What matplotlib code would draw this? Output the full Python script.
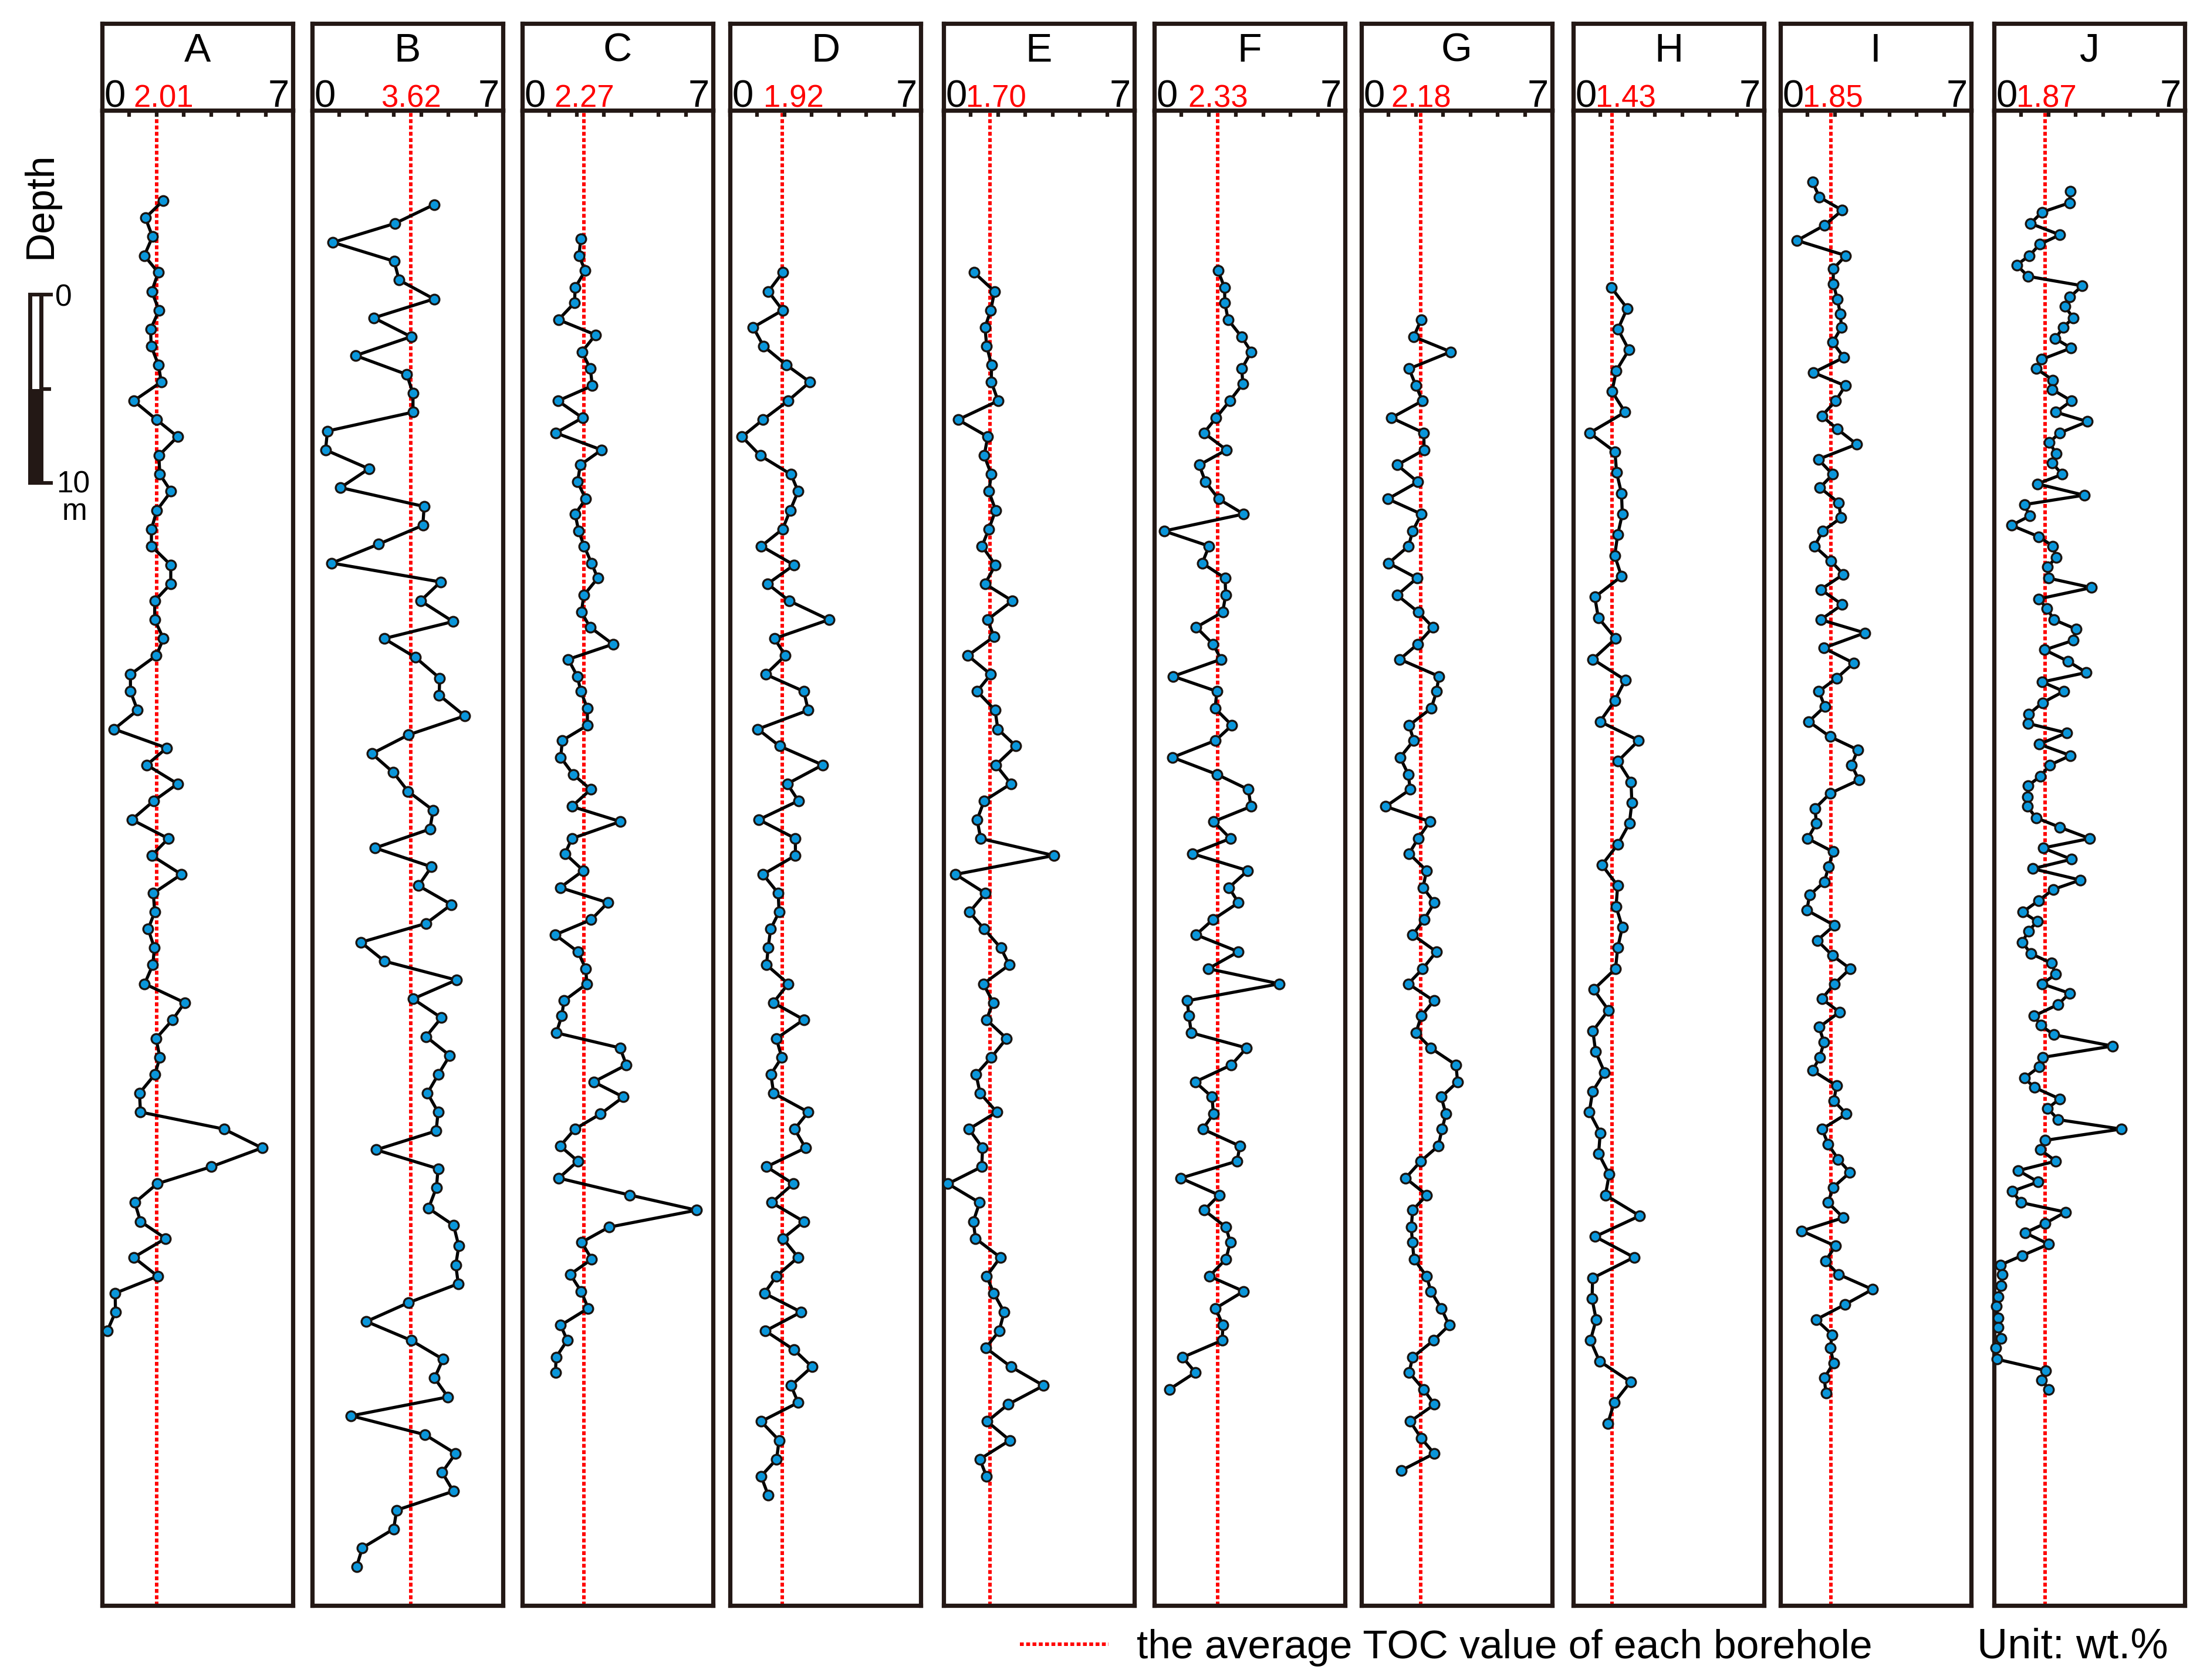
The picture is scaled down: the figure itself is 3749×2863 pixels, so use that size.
import matplotlib
matplotlib.use("Agg")
import matplotlib.pyplot as plt
from matplotlib.patches import Rectangle

plt.rcParams['font.family'] = ['Liberation Sans', 'DejaVu Sans']

# ---- data: TOC (wt.%) against depth (m) for each borehole ----
names = ['A', 'B', 'C', 'D', 'E', 'F', 'G', 'H', 'I', 'J']
means = [2.01, 3.62, 2.27, 1.92, 1.70, 2.33, 2.18, 1.43, 1.85, 1.87]

depth_a = [4.8, 5.7, 6.7, 7.7, 8.6, 9.6, 10.6, 11.6, 12.5, 13.5, 14.4, 15.4, 16.4, 17.3, 18.3, 19.3,
           20.2, 21.2, 22.2, 23.1, 24.1, 25.1, 26.0, 27.0, 28.0, 28.9, 29.9, 30.8, 31.8, 32.8, 33.8,
           34.7, 35.7, 36.6, 37.6, 38.6, 39.5, 40.5, 41.5, 42.5, 43.4, 44.4, 45.3, 46.3, 47.3, 48.2,
           49.2, 50.2, 51.1, 52.1, 53.1, 54.0, 55.0, 56.0, 56.9, 57.9, 58.9, 59.8, 60.8, 61.8, 62.7,
           63.7, 64.7]
toc_a = [2.23, 1.59, 1.85, 1.55, 2.06, 1.82, 2.09, 1.78, 1.80, 2.07, 2.17, 1.16, 2.00, 2.77, 2.08, 2.12,
         2.53, 2.01, 1.81, 1.81, 2.52, 2.52, 1.93, 1.93, 2.25, 1.99, 1.04, 1.04, 1.30, 0.44, 2.37, 1.64,
         2.77, 1.90, 1.09, 2.43, 1.82, 2.91, 1.88, 1.93, 1.69, 1.92, 1.86, 1.56, 3.03, 2.59, 1.98, 2.12,
         1.94, 1.37, 1.41, 4.47, 5.87, 4.00, 2.02, 1.20, 1.41, 2.33, 1.16, 2.04, 0.48, 0.49, 0.19]

depth_b = [5.0, 6.0, 7.0, 8.0, 9.0, 10.0, 11.0, 12.0, 13.0, 14.0, 15.0, 16.0, 17.0, 18.0, 19.0, 20.0,
           21.0, 22.0, 23.0, 24.0, 25.0, 26.0, 27.1, 28.0, 29.0, 30.1, 31.0, 32.1, 33.1, 34.1, 35.1,
           36.1, 37.1, 38.1, 39.1, 40.1, 41.1, 42.1, 43.1, 44.1, 45.1, 46.1, 47.1, 48.1, 49.1, 50.1,
           51.1, 52.1, 53.1, 54.1, 55.1, 56.1, 57.1, 58.2, 59.1, 60.2, 61.2, 62.2, 63.2, 64.2, 65.2,
           66.2, 67.2, 68.2, 69.2, 70.2, 71.2, 72.2, 73.2, 74.2, 75.2, 76.2, 77.2]
toc_b = [4.47, 3.03, 0.76, 3.01, 3.19, 4.47, 2.26, 3.63, 1.59, 3.47, 3.70, 3.70, 0.56, 0.49, 2.08, 1.04,
         4.11, 4.06, 2.43, 0.72, 4.71, 3.98, 5.17, 2.64, 3.79, 4.68, 4.66, 5.60, 3.54, 2.19, 2.98, 3.52,
         4.44, 4.32, 2.31, 4.38, 3.90, 5.11, 4.18, 1.79, 2.65, 5.29, 3.70, 4.74, 4.18, 5.05, 4.63, 4.23,
         4.62, 4.55, 2.35, 4.62, 4.56, 4.27, 5.19, 5.38, 5.27, 5.36, 3.54, 1.99, 3.63, 4.80, 4.49, 4.98,
         1.43, 4.14, 5.26, 4.77, 5.18, 3.10, 2.99, 1.84, 1.63]

depth_c = [6.8, 7.7, 8.5, 9.4, 10.2, 11.1, 11.9, 12.8, 13.7, 14.6, 15.4, 16.3, 17.1, 18.0, 18.8, 19.7,
           20.6, 21.4, 22.3, 23.1, 24.0, 24.8, 25.7, 26.6, 27.4, 28.3, 29.1, 30.0, 30.8, 31.7, 32.6,
           33.4, 34.3, 35.2, 36.0, 36.9, 37.7, 38.6, 39.4, 40.3, 41.2, 42.0, 42.9, 43.7, 44.6, 45.5,
           46.3, 47.2, 48.0, 48.9, 49.7, 50.6, 51.5, 52.3, 53.2, 54.0, 54.9, 55.7, 56.6, 57.5, 58.3,
           59.2, 60.0, 60.9, 61.7, 62.6, 63.5, 64.4, 65.2, 66.1, 66.9]
toc_c = [2.15, 2.08, 2.31, 1.94, 1.92, 1.33, 2.69, 2.19, 2.50, 2.57, 1.31, 2.21, 1.23, 2.91, 2.13, 2.03,
         2.33, 1.94, 2.07, 2.27, 2.54, 2.77, 2.26, 2.17, 2.49, 3.33, 1.69, 2.02, 2.15, 2.39, 2.39, 1.47,
         1.41, 1.87, 2.51, 1.82, 3.60, 1.82, 1.57, 2.24, 1.39, 3.14, 2.53, 1.21, 2.04, 2.33, 2.37, 1.53,
         1.45, 1.25, 3.59, 3.82, 2.62, 3.71, 2.87, 1.93, 1.39, 2.04, 1.34, 3.95, 6.40, 3.18, 2.18, 2.55,
         1.76, 2.16, 2.42, 1.41, 1.65, 1.24, 1.22]

depth_d = [8.6, 9.6, 10.6, 11.5, 12.5, 13.5, 14.4, 15.4, 16.4, 17.3, 18.3, 19.3, 20.2, 21.2, 22.2, 23.1,
           24.1, 25.1, 26.0, 27.0, 28.0, 28.9, 29.9, 30.8, 31.8, 32.8, 33.7, 34.7, 35.7, 36.6, 37.6,
           38.6, 39.5, 40.5, 41.5, 42.5, 43.4, 44.4, 45.3, 46.3, 47.3, 48.2, 49.2, 50.2, 51.1, 52.1,
           53.1, 54.0, 55.0, 56.0, 56.9, 57.9, 58.9, 59.8, 60.8, 61.8, 62.7, 63.7, 64.7, 65.7, 66.6,
           67.6, 68.5, 69.5, 70.5, 71.5, 72.4, 73.4]
toc_d = [1.93, 1.41, 1.93, 0.85, 1.23, 2.07, 2.93, 2.13, 1.21, 0.44, 1.11, 2.24, 2.50, 2.21, 1.93, 1.15,
         2.35, 1.38, 2.17, 3.63, 1.63, 2.03, 1.31, 2.71, 2.87, 1.02, 1.82, 3.40, 2.10, 2.51, 1.06, 2.40,
         2.40, 1.21, 1.77, 1.80, 1.49, 1.40, 1.34, 2.14, 1.59, 2.71, 1.70, 1.90, 1.50, 1.60, 2.87, 2.37,
         2.77, 1.34, 2.32, 1.53, 2.71, 1.94, 2.50, 1.70, 1.26, 2.61, 1.30, 2.35, 3.01, 2.24, 2.50, 1.14,
         1.80, 1.71, 1.14, 1.40]

depth_e = [8.6, 9.6, 10.6, 11.5, 12.5, 13.5, 14.4, 15.4, 16.4, 17.3, 18.3, 19.3, 20.2, 21.2, 22.2, 23.1,
           24.1, 25.1, 26.0, 27.0, 27.9, 28.9, 29.9, 30.8, 31.8, 32.8, 33.7, 34.7, 35.7, 36.6, 37.6,
           38.6, 39.5, 40.5, 41.5, 42.5, 43.4, 44.4, 45.3, 46.3, 47.3, 48.2, 49.2, 50.2, 51.1, 52.1,
           53.1, 54.0, 55.0, 56.0, 56.9, 57.9, 58.9, 59.8, 60.8, 61.8, 62.7, 63.7, 64.7, 65.6, 66.6,
           67.6, 68.6, 69.5, 70.5, 71.5, 72.4]
toc_e = [1.12, 1.87, 1.73, 1.52, 1.58, 1.76, 1.75, 2.00, 0.53, 1.62, 1.49, 1.75, 1.66, 1.91, 1.66, 1.41,
         1.90, 1.52, 2.52, 1.61, 1.85, 0.89, 1.73, 1.23, 1.89, 1.99, 2.65, 1.92, 2.47, 1.49, 1.23, 1.36,
         4.05, 0.44, 1.53, 0.95, 1.49, 2.10, 2.41, 1.46, 1.82, 1.57, 2.31, 1.75, 1.19, 1.34, 1.95, 0.93,
         1.43, 1.40, 0.16, 1.32, 1.09, 1.17, 2.08, 1.58, 1.84, 2.22, 2.04, 1.55, 2.47, 3.67, 2.36, 1.60,
         2.43, 1.33, 1.57]

depth_f = [8.5, 9.4, 10.2, 11.1, 12.0, 12.8, 13.7, 14.5, 15.4, 16.3, 17.1, 18.0, 18.8, 19.7, 20.6, 21.4,
           22.3, 23.1, 24.0, 24.8, 25.7, 26.6, 27.4, 28.3, 29.1, 30.0, 30.8, 31.7, 32.6, 33.4, 34.3,
           35.2, 36.0, 36.9, 37.7, 38.6, 39.4, 40.3, 41.2, 42.0, 42.9, 43.7, 44.6, 45.5, 46.3, 47.2,
           48.0, 48.9, 49.7, 50.6, 51.5, 52.3, 53.2, 54.0, 54.9, 55.7, 56.6, 57.5, 58.3, 59.2, 60.0,
           60.9, 61.8, 62.6, 63.5, 64.4, 65.2, 66.1, 66.9, 67.8]
toc_f = [2.34, 2.58, 2.59, 2.71, 3.20, 3.56, 3.21, 3.25, 2.77, 2.27, 1.82, 2.65, 1.65, 1.88, 2.36, 3.28,
         0.36, 2.01, 1.76, 2.60, 2.62, 2.51, 1.54, 2.16, 2.45, 0.69, 2.30, 2.23, 2.85, 2.25, 0.67, 2.30,
         3.45, 3.55, 2.18, 2.79, 1.39, 3.43, 2.74, 3.09, 2.15, 1.53, 3.09, 1.98, 4.59, 1.21, 1.27, 1.36,
         3.39, 2.83, 1.50, 2.12, 2.17, 1.78, 3.14, 3.04, 0.97, 2.38, 1.83, 2.63, 2.79, 2.63, 2.02, 3.28,
         2.25, 2.52, 2.49, 1.04, 1.51, 0.55]

depth_g = [11.1, 12.0, 12.8, 13.7, 14.6, 15.4, 16.3, 17.1, 18.0, 18.8, 19.7, 20.6, 21.4, 22.3, 23.1,
           24.0, 24.8, 25.7, 26.6, 27.4, 28.3, 29.1, 30.0, 30.8, 31.7, 32.6, 33.4, 34.3, 35.2, 36.0,
           36.9, 37.7, 38.6, 39.4, 40.3, 41.2, 42.0, 42.9, 43.7, 44.6, 45.5, 46.3, 47.2, 48.0, 48.9,
           49.7, 50.6, 51.5, 52.3, 53.2, 54.0, 54.9, 55.7, 56.6, 57.5, 58.3, 59.2, 60.0, 60.9, 61.8,
           62.6, 63.5, 64.4, 65.2, 66.1, 66.9, 67.8, 68.6, 69.5, 70.4, 71.2, 72.1]
toc_g = [2.19, 1.92, 3.28, 1.75, 2.00, 2.24, 1.10, 2.29, 2.30, 1.31, 2.07, 0.97, 2.20, 1.88, 1.73, 1.00,
         2.04, 1.31, 2.09, 2.62, 2.06, 1.41, 2.84, 2.76, 2.56, 1.75, 1.92, 1.42, 1.72, 1.79, 0.89, 2.51,
         2.08, 1.75, 2.39, 2.26, 2.68, 2.30, 1.88, 2.75, 2.25, 1.72, 2.66, 2.20, 2.00, 2.54, 3.47, 3.53,
         2.93, 3.10, 2.96, 2.82, 2.18, 1.62, 2.40, 1.88, 1.83, 1.87, 1.93, 2.39, 2.55, 2.93, 3.22, 2.65,
         1.88, 1.75, 2.28, 2.68, 1.79, 2.20, 2.67, 1.46]

depth_h = [9.4, 10.5, 11.6, 12.7, 13.8, 14.9, 16.0, 17.1, 18.1, 19.2, 20.3, 21.4, 22.5, 23.6, 24.7, 25.8,
           26.9, 28.0, 29.1, 30.2, 31.3, 32.4, 33.4, 34.5, 35.6, 36.7, 37.8, 38.9, 40.0, 41.1, 42.2,
           43.3, 44.4, 45.5, 46.6, 47.7, 48.8, 49.9, 51.0, 52.0, 53.1, 54.2, 55.3, 56.4, 57.5, 58.6,
           59.7, 60.8, 61.9, 63.0, 64.1, 65.2, 66.3, 67.4, 68.5, 69.6]
toc_h = [1.40, 1.98, 1.64, 2.04, 1.58, 1.42, 1.90, 0.60, 1.53, 1.59, 1.77, 1.80, 1.63, 1.52, 1.77, 0.79,
         0.92, 1.55, 0.72, 1.91, 1.52, 0.98, 2.40, 1.64, 2.12, 2.15, 2.06, 1.64, 1.05, 1.63, 1.57, 1.80,
         1.63, 1.55, 0.75, 1.29, 0.72, 0.82, 1.15, 0.71, 0.59, 0.99, 0.93, 1.32, 1.18, 2.44, 0.80, 2.23,
         0.71, 0.69, 0.84, 0.63, 0.96, 2.10, 1.50, 1.27]

depth_i = [3.8, 4.6, 5.3, 6.1, 6.9, 7.7, 8.4, 9.2, 10.0, 10.8, 11.5, 12.3, 13.1, 13.9, 14.6, 15.4, 16.2,
           16.9, 17.7, 18.5, 19.3, 20.0, 20.8, 21.6, 22.3, 23.1, 23.9, 24.6, 25.4, 26.2, 27.0, 27.7,
           28.5, 29.3, 30.1, 30.8, 31.6, 32.4, 33.2, 33.9, 34.7, 35.5, 36.2, 37.0, 37.8, 38.6, 39.3,
           40.1, 40.9, 41.6, 42.4, 43.2, 44.0, 44.8, 45.5, 46.3, 47.1, 47.8, 48.6, 49.4, 50.2, 50.9,
           51.7, 52.5, 53.2, 54.0, 54.8, 55.6, 56.3, 57.1, 57.9, 58.7, 59.4, 60.2, 61.0, 61.7, 62.5,
           63.3, 64.1, 64.9, 65.6, 66.4, 67.2, 68.0]
toc_i = [1.18, 1.43, 2.27, 1.61, 0.61, 2.40, 1.94, 1.94, 2.09, 2.20, 2.24, 1.92, 2.33, 1.21, 2.38, 2.03,
         1.52, 2.09, 2.80, 1.39, 1.92, 1.45, 2.14, 2.22, 1.56, 1.25, 1.86, 2.31, 1.48, 2.27, 1.48, 3.10,
         1.59, 2.69, 2.06, 1.41, 1.63, 1.04, 1.82, 2.84, 2.61, 2.88, 1.83, 1.27, 1.32, 1.00, 1.93, 1.77,
         1.61, 1.07, 0.97, 1.98, 1.35, 1.91, 2.56, 1.98, 1.52, 2.17, 1.42, 1.60, 1.44, 1.18, 2.06, 1.96,
         2.42, 1.53, 1.75, 2.12, 2.55, 1.93, 1.75, 2.31, 0.78, 2.02, 1.65, 2.13, 3.38, 2.37, 1.31, 1.90,
         1.83, 1.95, 1.61, 1.67]

depth_j = [4.3, 4.9, 5.4, 6.0, 6.6, 7.1, 7.7, 8.2, 8.8, 9.3, 9.9, 10.4, 11.0, 11.5, 12.1, 12.6, 13.2,
           13.7, 14.3, 14.8, 15.4, 16.0, 16.5, 17.1, 17.6, 18.2, 18.7, 19.3, 19.8, 20.4, 20.9, 21.5,
           22.0, 22.6, 23.1, 23.7, 24.2, 24.8, 25.3, 25.9, 26.4, 27.0, 27.5, 28.1, 28.6, 29.2, 29.8,
           30.3, 30.8, 31.4, 32.0, 32.5, 33.0, 33.6, 34.2, 34.7, 35.3, 35.8, 36.4, 36.9, 37.5, 38.0,
           38.6, 39.1, 39.7, 40.2, 40.8, 41.3, 41.9, 42.5, 43.0, 43.5, 44.1, 44.7, 45.2, 45.8, 46.3,
           46.8, 47.4, 48.0, 48.5, 49.0, 49.6, 50.2, 50.7, 51.3, 51.8, 52.4, 52.9, 53.5, 54.0, 54.6,
           55.1, 55.7, 56.2, 56.8, 57.3, 57.9, 58.4, 59.0, 59.5, 60.1, 60.7, 61.2, 61.7, 62.3, 62.9,
           63.4, 64.0, 64.5, 65.1, 65.6, 66.2, 66.8, 67.3, 67.8]
toc_j = [2.79, 2.78, 1.76, 1.34, 2.42, 1.68, 1.30, 0.83, 1.25, 3.24, 2.78, 2.60, 2.91, 2.54, 2.25, 2.83,
         1.75, 1.56, 2.16, 2.14, 2.84, 2.27, 3.43, 2.41, 2.03, 2.28, 2.14, 2.50, 1.59, 3.31, 1.11, 1.31,
         0.64, 1.64, 2.16, 2.28, 1.97, 2.01, 3.58, 1.64, 1.94, 2.20, 3.01, 2.90, 1.86, 2.71, 3.39, 1.77,
         2.56, 1.78, 1.28, 1.25, 2.66, 1.66, 2.81, 2.05, 1.70, 1.25, 1.23, 1.23, 1.54, 2.41, 3.51, 1.80,
         2.84, 1.42, 3.17, 2.17, 1.63, 1.05, 1.59, 1.26, 1.04, 1.35, 2.10, 2.27, 1.76, 2.77, 2.35, 1.47,
         1.72, 2.19, 4.35, 1.79, 1.66, 1.11, 1.49, 2.41, 1.97, 2.35, 4.67, 1.87, 1.70, 2.27, 0.89, 1.62,
         0.66, 1.00, 2.62, 1.88, 1.14, 2.01, 1.04, 0.24, 0.30, 0.26, 0.15, 0.09, 0.14, 0.16, 0.26, 0.07,
         0.11, 1.90, 1.75, 2.01]

depths = [depth_a, depth_b, depth_c, depth_d, depth_e, depth_f, depth_g, depth_h, depth_i, depth_j]
tocs = [toc_a, toc_b, toc_c, toc_d, toc_e, toc_f, toc_g, toc_h, toc_i, toc_j]

# ---- layout (pixels of the 3749 x 2863 canvas) ----
W, H = 3749, 2863
FRAME = '#231815'
BLUE = '#0A96DA'
RED = '#FF0000'
lefts = [174, 532, 890, 1244, 1608, 1967, 2320, 2681, 3034, 3398]
pw = 325
y_top, y_axis, y_bot = 39.5, 188, 2736
px_per_m = 32.15
depth_max = (y_bot - y_axis) / px_per_m
label_nudge = {'A': 0.25, 'D': 0.4}
DOT = (0, (1.1, 0.7))

fig = plt.figure(figsize=(W / 100, H / 100), dpi=100)
fig.patch.set_facecolor('white')

# overlay in pixel coordinates for scale bar / legend
ov = fig.add_axes([0, 0, 1, 1])
ov.set_xlim(0, W)
ov.set_ylim(H, 0)
ov.axis('off')


def style_spines(a):
    for s in a.spines.values():
        s.set_linewidth(5.2)
        s.set_color(FRAME)
        s.set_capstyle('projecting')


for name, m, dep, toc, left in zip(names, means, depths, tocs, lefts):
    ax = fig.add_axes([left / W, (H - y_bot) / H, pw / W, (y_bot - y_axis) / H])
    ax.set_xlim(0, 7)
    ax.set_ylim(depth_max, 0)
    ax.axvline(m, color=RED, lw=4.3, ls=DOT, zorder=1)
    ax.plot(toc, dep, '-o', color='black', lw=3.8, ms=12, mfc=BLUE, mec='#1a1410',
            mew=2.4, clip_on=False, zorder=3)
    ax.set_xticks(range(8))
    ax.set_yticks([])
    ax.tick_params(axis='x', top=True, bottom=False, labeltop=False, labelbottom=False,
                   direction='in', length=8, width=4.5, color=FRAME)
    style_spines(ax)

    hx = fig.add_axes([left / W, (H - y_axis) / H, pw / W, (y_axis - y_top) / H])
    hx.set_xlim(0, 7)
    hx.set_ylim(0, 1)
    hx.set_xticks([])
    hx.set_yticks([])
    style_spines(hx)
    hx.text(3.5, 0.56, name, ha='center', va='baseline', fontsize=49, color='black')
    hx.text(0.065, 0.04, '0', ha='left', va='baseline', fontsize=47, color='black')
    hx.text(6.87, 0.04, '7', ha='right', va='baseline', fontsize=47, color='black')
    # red mean label, kept clear of the black "0"
    lx = max(m + label_nudge.get(name, 0) - 1.1, 0.82)
    hx.text(lx, 0.04, f'{m:.2f}', ha='left', va='baseline', fontsize=38, color=RED)

# depth label and scale bar
ov.text(87.5, 350, 'Depth', rotation=90, rotation_mode='anchor', ha='center', va='baseline',
        fontsize=49)
ov.add_patch(Rectangle((48, 663), 26.5, 162, facecolor=FRAME, edgecolor='none'))
ov.plot([51.5, 51.5], [502, 822], color=FRAME, lw=5, solid_capstyle='butt')
ov.plot([70.5, 70.5], [502, 663], color=FRAME, lw=5, solid_capstyle='butt')
ov.plot([48, 90], [502, 502], color=FRAME, lw=4.5, solid_capstyle='butt')
ov.plot([70, 87.5], [663, 663], color=FRAME, lw=4.5, solid_capstyle='butt')
ov.plot([48, 90], [822.5, 822.5], color=FRAME, lw=4.5, solid_capstyle='butt')
ov.text(94, 521, '0', ha='left', va='baseline', fontsize=37)
ov.text(96, 840, '10', ha='left', va='baseline', fontsize=37)
ov.text(106, 886, 'm', ha='left', va='baseline', fontsize=37)

# legend
ov.plot([1738, 1889], [2802, 2802], color=RED, lw=4.3, ls=DOT)
ov.text(1937, 2826, 'the average TOC value of each borehole', ha='left', va='baseline', fontsize=50)
ov.text(3369, 2826, 'Unit: wt.%', ha='left', va='baseline', fontsize=52)

fig.savefig('out.png', dpi=100, facecolor='white')
